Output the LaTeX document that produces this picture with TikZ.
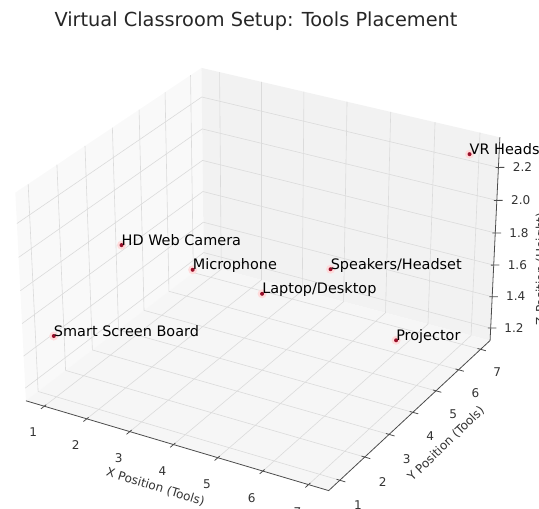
\documentclass[tikz,border=0pt]{standalone}
\usepackage{fontspec}
\setmainfont{DejaVu Sans}
\usepackage{tikz}
\usepackage{xcolor}

\definecolor{paneleft}{gray}{0.975}
\definecolor{paneback}{gray}{0.95}
\definecolor{panefloor}{gray}{0.9625}
\definecolor{gridgray}{gray}{0.86}
\definecolor{axisgray}{gray}{0.3}
\definecolor{dotred}{rgb}{0.6,0.06,0.16}

% limits of the 3D box (data units)
\newcommand{\xlo}{0.5625}
\newcommand{\xhi}{7.4375}
\newcommand{\ylo}{0.5625}
\newcommand{\yhi}{7.4375}
\newcommand{\zlo}{1.1198}
\newcommand{\zhi}{2.3802}

% perspective view, elev 30, azim -60
\newcommand{\mplproj}[4]{%
  \pgfmathsetmacro\mplwx{(#2-4)*0.16624}%
  \pgfmathsetmacro\mplwy{(#3-4)*0.16624}%
  \pgfmathsetmacro\mplwz{(#4-1.75)*0.68003}%
  \pgfmathsetmacro\mplu{0.8660*(\mplwx)+0.5*(\mplwy)}%
  \pgfmathsetmacro\mplv{-0.25*(\mplwx)+0.4330*(\mplwy)+0.8660*(\mplwz)}%
  \pgfmathsetmacro\mpld{10-0.4330*(\mplwx)+0.75*(\mplwy)-0.5*(\mplwz)}%
  \coordinate (#1) at ({262.1+3036*\mplu/\mpld},{239.5+2770*\mplv/\mpld});%
}

\begin{document}
\begin{tikzpicture}[x=1bp, y=1bp,
    gridline/.style={gridgray, line width=0.6bp},
    axisline/.style={axisgray, line width=0.8bp},
    ticklabel/.style={inner sep=0pt, text=black!80, font=\fontsize{12.1}{14}\selectfont},
    axislabel/.style={inner sep=0pt, text=black!80, font=\fontsize{12.1}{14}\selectfont},
    toollabel/.style={anchor=base west, inner sep=0pt, font=\fontsize{14.5}{17}\selectfont},
    dothalo/.style={fill=red!14},
    tooldot/.style={fill=dotred}]
  \useasboundingbox (0,0) rectangle (539,509);
  \clip (0,0) rectangle (539,509);

  % Box corners
  \mplproj{L}{\xlo}{\ylo}{\zlo}
  \mplproj{F}{\xhi}{\ylo}{\zlo}
  \mplproj{R}{\xhi}{\yhi}{\zlo}
  \mplproj{B}{\xlo}{\yhi}{\zlo}
  \mplproj{Lt}{\xlo}{\ylo}{\zhi}
  \mplproj{Bt}{\xlo}{\yhi}{\zhi}
  \mplproj{Rt}{\xhi}{\yhi}{\zhi}

  % Panes
  \fill[paneleft] (L) -- (B) -- (Bt) -- (Lt) -- cycle;
  \fill[paneback] (B) -- (R) -- (Rt) -- (Bt) -- cycle;
  \fill[panefloor] (L) -- (F) -- (R) -- (B) -- cycle;

  % Grid
  \foreach \tk in {1,...,7} {
    \mplproj{ga}{\tk}{\ylo}{\zlo}
    \mplproj{gb}{\tk}{\yhi}{\zlo}
    \mplproj{gc}{\tk}{\yhi}{\zhi}
    \draw[gridline] (ga) -- (gb) -- (gc);
    \mplproj{gd}{\xhi}{\tk}{\zlo}
    \mplproj{ge}{\xlo}{\tk}{\zlo}
    \mplproj{gf}{\xlo}{\tk}{\zhi}
    \draw[gridline] (gd) -- (ge) -- (gf);
  }
  \foreach \h in {1.2,1.4,1.6,1.8,2.0,2.2} {
    \mplproj{gg}{\xlo}{\ylo}{\h}
    \mplproj{gh}{\xlo}{\yhi}{\h}
    \mplproj{gi}{\xhi}{\yhi}{\h}
    \draw[gridline] (gg) -- (gh) -- (gi);
  }

  % Axes
  \draw[axisline] (L) -- (F) -- (R) -- (Rt);

  % Ticks on x and y
  \foreach \tk in {1,...,7} {
    \mplproj{ta}{\tk}{\ylo+0.07}{\zlo}
    \mplproj{tb}{\tk}{\ylo-0.12}{\zlo}
    \draw[axisline] (ta) -- (tb);
    \mplproj{tl}{\tk}{\ylo-0.42}{\zlo-0.105}
    \node[ticklabel] (xt\tk) at (tl) {\tk};
    \mplproj{tc}{\xhi-0.07}{\tk}{\zlo}
    \mplproj{td}{\xhi+0.12}{\tk}{\zlo}
    \draw[axisline] (tc) -- (td);
    \mplproj{tm}{\xhi+0.4}{\tk}{\zlo-0.12}
    \node[ticklabel] (yt\tk) at (tm) {\tk};
  }
  % Ticks on z
  \foreach \h [count=\i] in {1.2,1.4,1.6,1.8,2.0,2.2} {
    \mplproj{te}{\xhi-0.05}{\yhi-0.03}{\h}
    \mplproj{tf}{\xhi+0.1}{\yhi+0.06}{\h}
    \draw[axisline] (te) -- (tf);
    \mplproj{tz}{\xhi+0.41}{\yhi+0.25}{\h}
    \node[ticklabel] (zt\i) at (tz) {\h};
  }

  % Axis labels
  \node[axislabel, rotate=-17] (xlab) at (155.5,22) {X Position (Tools)};
  \node[axislabel, rotate=44] (ylab) at (446,65) {Y Position (Tools)};
  \node[axislabel, rotate=90, anchor=north] (zlab) at (535.5,240) {Z Position (Height)};

  % Tools
  \foreach \nm/\tx/\ty/\tz/\lbl in {smart/1/1/1.5/Smart Screen Board,
      camera/2/2/2.0/HD Web Camera, mic/3/3/1.8/Microphone,
      laptop/4/4/1.6/Laptop\slash Desktop, speakers/5/5/1.7/Speakers\slash Headset,
      projector/6/6/1.2/Projector, vr/7/7/2.3/VR Headset} {
    \mplproj{\nm}{\tx}{\ty}{\tz}
    \fill[dothalo] (\nm) circle (4.5);
    \fill[tooldot] (\nm) circle (2);
    \node[toollabel] (\nm-label) at (\nm) {\lbl};
  }

  % Title
  \node[font=\fontsize{19.4}{23}\selectfont, text=black!85, anchor=base] (title) at (256,482) {Virtual Classroom Setup: Tools Placement};
\end{tikzpicture}
\end{document}
